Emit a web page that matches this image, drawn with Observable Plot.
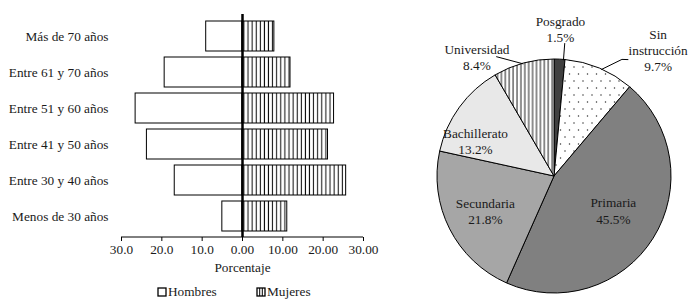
<!DOCTYPE html>
<html><head><meta charset="utf-8">
<script src="https://cdn.jsdelivr.net/npm/d3@7"></script>
<script src="https://cdn.jsdelivr.net/npm/@observablehq/plot@0.6"></script>
<style>
body{margin:0;background:#fff;font-family:'Liberation Serif',serif;color:#1a1a1a}
#wrap{display:flex;width:700px;height:305px;align-items:flex-start}
#left{width:420px;height:305px;position:relative}
#right{width:280px;height:305px}
.leg{position:absolute;top:284px;font-family:'Liberation Serif',serif;font-size:13.3px;line-height:16px;display:flex;align-items:center;white-space:nowrap}
.leg svg{margin-right:1px}
svg text{font-family:'Liberation Serif',serif}
</style></head><body>
<svg width="0" height="0" style="position:absolute">
<defs>
<pattern id="vstripes" patternUnits="userSpaceOnUse" width="4.1" height="10"><rect width="4.1" height="10" fill="#fff"/><line x1="2" y1="0" x2="2" y2="10" stroke="#000" stroke-width="1"/></pattern>
<pattern id="pstripes" patternUnits="userSpaceOnUse" width="3.9" height="10"><rect width="3.9" height="10" fill="#fff"/><line x1="2" y1="0" x2="2" y2="10" stroke="#000" stroke-width="0.9"/></pattern>
<pattern id="dots" patternUnits="userSpaceOnUse" width="9" height="14"><rect width="9" height="14" fill="#fff"/><circle cx="2" cy="3" r="0.75" fill="#333"/><circle cx="6.5" cy="10" r="0.75" fill="#333"/></pattern>
</defs></svg>
<div id="wrap"><div id="left"></div><div id="right"></div></div>
<script>
// ---- data ----
const ageGroups = ["Más de 70 años","Entre 61 y 70 años","Entre 51 y 60 años","Entre 41 y 50 años","Entre 30 y 40 años","Menos de 30 años"];
const hombres = [9.0, 19.3, 26.5, 23.7, 16.8, 5.0];
const mujeres = [7.9, 11.9, 22.7, 21.2, 25.7, 11.1];
const xTicks = [-30, -20, -10, 0, 10, 20, 30];
const seriesNames = ["Hombres", "Mujeres"];
const xLabel = "Porcentaje";

const levels = ["Posgrado","Sin instrucción","Primaria","Secundaria","Bachillerato","Universidad"];
const shares = [1.5, 9.7, 45.5, 21.8, 13.2, 8.4];

// ---- styles / layout ----
const pieFills = {"Posgrado":"#404040","Sin instrucción":"url(#dots)","Primaria":"#808080","Secundaria":"#a6a6a6","Bachillerato":"#e8e8e8","Universidad":"url(#pstripes)"};
const labelPlace = {"Posgrado":[1.265,-0.4],"Sin instrucción":[1.40,16.4],"Primaria":[0.58,-2.2],"Secundaria":[0.66,0.4],"Bachillerato":[0.74,-11.9],"Universidad":[1.22,-17.8]};
const leaders = {"Posgrado":[[1.0,1.7],[1.14,1.7]],"Sin instrucción":[[1.0,0.9],[1.155,7.1],[1.18,9.3]],"Universidad":[[1.0,-0.5],[1.137,-10.7]]};

const font = "'Liberation Serif', serif";
const styleStr = `font-family: 'Liberation Serif', serif; font-size: 13.3px; color: #1a1a1a; background: transparent; overflow: visible;`;
const fmtX = d => d < 0 ? (-d).toFixed(1) : d.toFixed(2);

// ---- left: population pyramid ----
const rows = ageGroups.map((g, i) => ({g, h: hombres[i], m: mujeres[i]}));
const baseline = (index, scales, values, dims) => {
  const yb = dims.height - dims.marginBottom;
  const l = document.createElementNS("http://www.w3.org/2000/svg", "line");
  l.setAttribute("x1", scales.x(xTicks[0])); l.setAttribute("x2", scales.x(xTicks[xTicks.length-1]));
  l.setAttribute("y1", yb); l.setAttribute("y2", yb);
  l.setAttribute("stroke", "#000"); l.setAttribute("stroke-width", 1);
  return l;
};
const left = Plot.plot({
  width: 400, height: 280,
  marginLeft: 121, marginRight: 37, marginTop: 14, marginBottom: 43,
  style: styleStr,
  x: {domain: [xTicks[0], xTicks[xTicks.length-1]], label: null},
  y: {domain: ageGroups, padding: 0.17, label: null},
  marks: [
    Plot.barX(rows, {y: "g", x1: 0, x2: d => -d.h, fill: "#fff", stroke: "#000", strokeWidth: 1}),
    Plot.barX(rows, {y: "g", x1: 0, x2: "m", fill: "url(#vstripes)", stroke: "#000", strokeWidth: 1}),
    Plot.ruleX([0], {stroke: "#000", strokeWidth: 2.5}),
    baseline,
    Plot.axisX({ticks: xTicks, tickFormat: fmtX, tickSize: 4, tickPadding: 3, label: null, stroke: "#000", fontFamily: font}),
    Plot.axisY({tickSize: 0, tickPadding: 13, label: null, fontFamily: font}),
    Plot.text([xLabel], {x: [0], text: d => d, frameAnchor: "bottom", dy: 34, fontFamily: font})
  ]
});
document.getElementById("left").appendChild(left);

// legend
const legDiv = document.getElementById("left");
const mkLeg = (name, striped, leftPx) => {
  const s = document.createElement("div");
  s.className = "leg"; s.style.left = leftPx + "px";
  s.innerHTML = `<svg width="10" height="10" viewBox="0 0 10 10"><rect x="1" y="1" width="8" height="8" fill="#fff" stroke="#000" stroke-width="1.3"/>${striped ? '<line x1="3.7" y1="1" x2="3.7" y2="9" stroke="#000" stroke-width="1"/><line x1="6.3" y1="1" x2="6.3" y2="9" stroke="#000" stroke-width="1"/>' : ''}</svg><span>${name}</span>`;
  legDiv.appendChild(s);
};
mkLeg(seriesNames[0], false, 157);
mkLeg(seriesNames[1], true, 256);

// ---- right: pie ----
const slices = levels.map((k, i) => ({k, v: shares[i]}));
const arcs = d3.pie().sort(null).value(d => d.v)(slices);
const midDeg = {};
arcs.forEach(a => midDeg[a.data.k] = (a.startAngle + a.endAngle) / 2 * 180 / Math.PI);
const polar = (k, f, da) => { const a = (midDeg[k] + da) * Math.PI / 180; return {x: f * Math.sin(a), y: f * Math.cos(a)}; };

const pieMark = (index, scales) => {
  const cx = scales.x(0), cy = scales.y(0), r = scales.x(1) - scales.x(0);
  const g = d3.create("svg:g").attr("transform", `translate(${cx},${cy})`);
  const arc = d3.arc().innerRadius(0).outerRadius(r);
  g.selectAll("path").data(arcs).join("path")
    .attr("d", arc).attr("fill", d => pieFills[d.data.k])
    .attr("stroke", "#000").attr("stroke-width", 1).attr("stroke-linejoin", "round");
  return g.node();
};
const labelRows = slices.map(s => ({...polar(s.k, ...labelPlace[s.k]), text: s.k.replace(" ", "\n") + "\n" + s.v.toFixed(1) + "%"}));
const leaderRows = Object.entries(leaders).flatMap(([k, pts]) => pts.map(p => ({k, ...polar(k, p[0], p[1])})));

const right = Plot.plot({
  width: 280, height: 305,
  marginLeft: 17, marginRight: 29, marginTop: 59, marginBottom: 12,
  style: styleStr,
  x: {domain: [-1, 1], axis: null},
  y: {domain: [-1, 1], axis: null},
  marks: [
    pieMark,
    Plot.line(leaderRows, {x: "x", y: "y", z: "k", stroke: "#000", strokeWidth: 1, curve: "linear"}),
    Plot.text(labelRows, {x: "x", y: "y", text: "text", lineHeight: 1.22, fill: "#1a1a1a", fontFamily: font})
  ]
});
document.getElementById("right").appendChild(right);
</script>
</body></html>
